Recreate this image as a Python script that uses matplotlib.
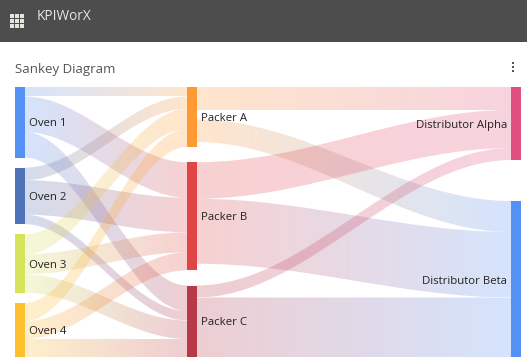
import numpy as np
import matplotlib
matplotlib.use("Agg")
import matplotlib.pyplot as plt
from matplotlib.colors import to_rgb
from matplotlib.patches import PathPatch, Rectangle
from matplotlib.path import Path

plt.rcParams['font.family'] = ['Open Sans', 'DejaVu Sans']

ovens = ["Oven 1", "Oven 2", "Oven 3", "Oven 4"]
packers = ["Packer A", "Packer B", "Packer C"]
distributors = ["Distributor Alpha", "Distributor Beta"]

oven_colors = ["#5591f5", "#4f72b8", "#d6e35b", "#ffc02e"]
packer_colors = ["#ff9933", "#e04545", "#b83a4a"]
dist_colors = ["#e0507e", "#5591f5"]

# rows are ovens, columns are packers
oven_to_packer = [[9.5, 35.5, 25.5],
                  [12.5, 34.5, 9.5],
                  [20, 20, 18.5],
                  [18, 18, 18]]
# the links out of the packers are narrower or wider at the far end in the original
packer_out_left = [[23.5, 22.5],
                   [36.5, 65],
                   [12, 60]]
packer_in_right = [[23, 31],
                   [38, 65.5],
                   [12, 59.5]]

TOP, BOTTOM = 87, 357
NODE_W = 10
X_OVEN, X_PACKER, X_DIST = 15, 187, 511
A_BETA_SKIP = 9  # white slot above the Packer A to Beta link
DIST_GAP = 41
ALPHA = 0.25
CURVE = 0.35


def node_tops(heights, top=TOP, bottom=BOTTOM, gap=None):
    heights = np.array(heights, dtype=float)
    if gap is None:
        gap = (bottom - top - heights.sum()) / (len(heights) - 1)
    return top + np.concatenate([[0], np.cumsum(heights[:-1] + gap)])


def draw_link(ax, x0, x1, y0a, y0b, y1a, y1b, c0, c1):
    # band between two cubic curves, filled with a left to right gradient
    xa = x0 + CURVE * (x1 - x0)
    xb = x1 - CURVE * (x1 - x0)
    verts = [(x0, y0a), (xa, y0a), (xb, y1a), (x1, y1a),
             (x1, y1b), (xb, y1b), (xa, y0b), (x0, y0b), (x0, y0a)]
    codes = [Path.MOVETO, Path.CURVE4, Path.CURVE4, Path.CURVE4,
             Path.LINETO, Path.CURVE4, Path.CURVE4, Path.CURVE4, Path.CLOSEPOLY]
    t = np.linspace(0, 1, 64)[None, :, None]
    rgb = (1 - t) * np.array(to_rgb(c0)) + t * np.array(to_rgb(c1))
    img = np.dstack([rgb, np.full(t.shape[:2], ALPHA)])
    top, bot = min(y0a, y1a), max(y0b, y1b)
    im = ax.imshow(img, extent=(x0, x1, bot, top), aspect='auto', zorder=2,
                   interpolation='bilinear')
    im.set_clip_path(PathPatch(Path(verts, codes), transform=ax.transData))


fig = plt.figure(figsize=(5.27, 3.63), dpi=100)
ax = fig.add_axes([0, 0, 1, 1])

flows = np.array(oven_to_packer)
oven_h = flows.sum(axis=1)
packer_h = flows.sum(axis=0)
dist_h = np.array(packer_in_right).sum(axis=0)
oven_top = node_tops(oven_h)
packer_top = node_tops(packer_h)
dist_top = node_tops(dist_h, gap=DIST_GAP)

# ovens to packers
for i in range(len(ovens)):
    for j in range(len(packers)):
        y0 = oven_top[i] + flows[i, :j].sum()
        y1 = packer_top[j] + flows[:i, j].sum()
        draw_link(ax, X_OVEN + NODE_W, X_PACKER, y0, y0 + flows[i, j],
                  y1, y1 + flows[i, j], oven_colors[i], packer_colors[j])

# packers to distributors
for j in range(len(packers)):
    for k in range(len(distributors)):
        y0 = packer_top[j] + sum(packer_out_left[j][:k])
        if j == 0 and k == 1:
            y0 += A_BETA_SKIP
        y1 = dist_top[k] + sum(row[k] for row in packer_in_right[:j])
        draw_link(ax, X_PACKER + NODE_W, X_DIST, y0, y0 + packer_out_left[j][k],
                  y1, y1 + packer_in_right[j][k], packer_colors[j], dist_colors[k])

# nodes and labels
for x, names, tops, heights, colors in [(X_OVEN, ovens, oven_top, oven_h, oven_colors),
                                        (X_PACKER, packers, packer_top, packer_h, packer_colors),
                                        (X_DIST, distributors, dist_top, dist_h, dist_colors)]:
    for name, t, h, c in zip(names, tops, heights, colors):
        ax.add_patch(Rectangle((x, t), NODE_W, h, color=c, lw=0, zorder=3))
        if x == X_DIST:
            ax.text(x - 4, t + h / 2 + 2, name, ha='right', va='center',
                    fontsize=8.2, color="#222222", zorder=4)
        else:
            ax.text(x + NODE_W + 4, t + h / 2 + 1.5, name, ha='left', va='center',
                    fontsize=8.2, color="#222222", zorder=4)

# page furniture
ax.add_patch(Rectangle((0, 0), 527, 42, color="#4d4d4d", lw=0, zorder=1))
for row in range(3):
    for col in range(3):
        ax.add_patch(Rectangle((9.5 + col * 5, 14 + row * 5), 4, 4,
                               color="#e8e4e0", lw=0, zorder=2))
ax.text(37, 16, "KPIWorX", color="#e6e6e6", fontsize=9.8, ha='left', va='center')
ax.text(15, 69.5, "Sankey Diagram", color="#555555", fontsize=9.5, ha='left', va='center')
for y in (63, 67, 71):
    ax.add_patch(Rectangle((511.5, y - 1), 2, 2, color="#555555", lw=0))

ax.set_xlim(0, 527)
ax.set_ylim(363, 0)
ax.axis('off')
fig.savefig("out.png", dpi=100)
